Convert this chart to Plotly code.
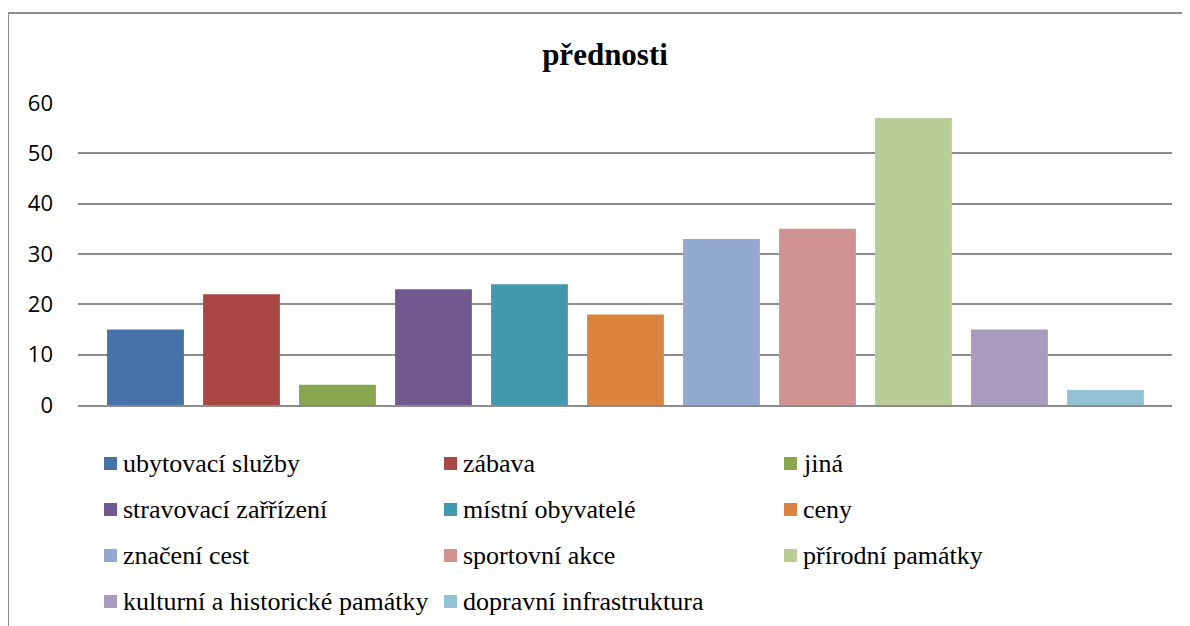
import plotly.graph_objects as go

categories = [
    "ubytovací služby",
    "zábava",
    "jiná",
    "stravovací zařřízení",
    "místní obyvatelé",
    "ceny",
    "značení cest",
    "sportovní akce",
    "přírodní památky",
    "kulturní a historické památky",
    "dopravní infrastruktura",
]
values = [15, 22, 4, 23, 24, 18, 33, 35, 57, 15, 3]
colors = [
    "#4572A7", "#AA4643", "#89A54E", "#71588F", "#4198AF", "#DB843D",
    "#93A9CF", "#D19392", "#B9CD96", "#A99BBD", "#91C3D5",
]

W, H = 1190, 626
OFF = 8  # page margin around the figure in the browser
L, R, T, B = 78 - OFF, W - 1172 + OFF, 103 - OFF, H - 405 + OFF
pw, ph = W - L - R, H - T - B


def px(x):
    # screen x -> paper x
    return (x - OFF - L) / pw


def py(y):
    # screen y -> paper y
    return (H - B - (y - OFF)) / ph


fig = go.Figure()
for i, (name, val, col) in enumerate(zip(categories, values, colors)):
    fig.add_trace(go.Bar(x=[i], y=[val], name=name, marker_color=col,
                         marker_line_width=0, width=0.8, showlegend=False))

# legend drawn below the plot, three columns
legend_font = {"family": "Liberation Serif", "size": 26, "color": "black"}
for i, (name, col) in enumerate(zip(categories, colors)):
    r, c = divmod(i, 3)
    sx = 104 + 340 * c
    cy = 463 + 46 * r
    fig.add_shape(type="rect", xref="paper", yref="paper",
                  x0=px(sx), x1=px(sx + 13), y0=py(cy + 7), y1=py(cy - 6),
                  fillcolor=col, line_width=0)
    fig.add_annotation(text=name, xref="paper", yref="paper",
                       x=px(sx + 17), y=py(cy), xanchor="left", yanchor="middle",
                       showarrow=False, font=legend_font)

fig.update_layout(
    width=W, height=H,
    margin={"l": L, "r": R, "t": T, "b": B, "autoexpand": False},
    barmode="overlay",
    plot_bgcolor="white",
    paper_bgcolor="white",
    showlegend=False,
    title={
        "text": "<b>přednosti</b>",
        "font": {"family": "Liberation Serif", "size": 31, "color": "black"},
        "x": (605 - OFF) / W, "xanchor": "center", "xref": "container",
        "y": 1 - (54 - OFF) / H, "yanchor": "middle", "yref": "container",
    },
)
fig.update_xaxes(range=[-0.703, 10.693], showticklabels=False, showgrid=False,
                 zeroline=False, showline=True, linecolor="#8c8c8c", linewidth=2)
fig.update_yaxes(range=[0, 60], dtick=10, showgrid=True, gridcolor="#8c8c8c",
                 gridwidth=2, zeroline=False, ticks="", ticklabelstandoff=24,
                 tickfont={"family": "Open Sans", "size": 22, "color": "black"})

# outer chart border
fig.add_shape(type="rect", xref="paper", yref="paper",
              x0=px(8), x1=1.2, y0=-1.0, y1=py(13),
              line={"color": "#8c8c8c", "width": 2}, layer="below")

fig.write_html("out.html")
